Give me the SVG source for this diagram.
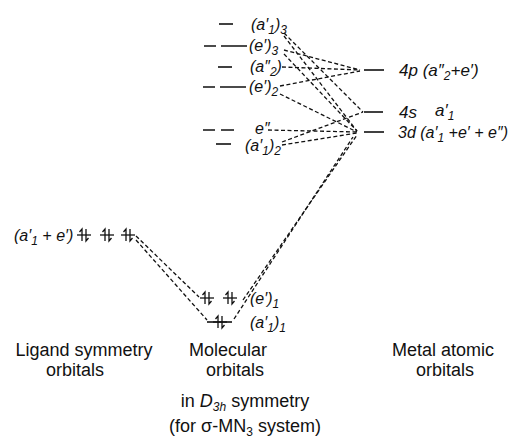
<svg xmlns="http://www.w3.org/2000/svg" width="509" height="444" viewBox="0 0 509 444">
<style>
text{font-family:"Liberation Sans","DejaVu Sans",sans-serif;fill:#111}
.lbl{font-size:16px;font-style:italic}
.rl{font-size:17px;font-style:italic}
.sub{font-size:12px}
.cap{font-size:18px}
.lvl{stroke:#111;stroke-width:1.6;fill:none}
.con line{stroke:#111;stroke-width:1.3;stroke-dasharray:4 2.5;fill:none}
.pr{stroke:#111;stroke-width:1.3;fill:none}
</style>
<defs>
<g id="pair" class="pr">
<path d="M-7,0H7"/>
<path d="M-2,6V-6l-2.5,3"/>
<path d="M2,-6V6l2.5,-3"/>
</g>
</defs>
<g id="connectors" class="con">
<line x1="136" y1="236" x2="199" y2="297"/>
<line x1="136" y1="240" x2="207" y2="320"/>
<line x1="243" y1="300" x2="357" y2="135"/>
<line x1="234" y1="319" x2="353" y2="137"/>
<line x1="284" y1="33" x2="363" y2="112"/>
<line x1="284" y1="36" x2="357" y2="131"/>
<line x1="284" y1="50" x2="360" y2="70"/>
<line x1="284" y1="54" x2="357" y2="131"/>
<line x1="282" y1="67" x2="360" y2="70"/>
<line x1="280" y1="86" x2="360" y2="71"/>
<line x1="280" y1="94" x2="357" y2="132"/>
<line x1="268" y1="130" x2="357" y2="132"/>
<line x1="282" y1="142" x2="363" y2="112"/>
<line x1="282" y1="145" x2="357" y2="133"/>
</g>
<g id="mo-a1-3"><path class="lvl" d="M219,24H233"/><text class="lbl" x="251" y="30">(a′<tspan class="sub" dy="4">1</tspan><tspan dy="-4">)</tspan><tspan class="sub" dy="4">3</tspan></text></g>
<g id="mo-e-3"><path class="lvl" d="M204,46H216M221,46H247"/><text class="lbl" x="249" y="51">(e′)<tspan class="sub" dy="4">3</tspan></text></g>
<g id="mo-a2-2"><path class="lvl" d="M218,67H232"/><text class="lbl" x="250" y="72">(a″<tspan class="sub" dy="4">2</tspan><tspan dy="-4">)</tspan></text></g>
<g id="mo-e-2"><path class="lvl" d="M203,87H215M220,87H246"/><text class="lbl" x="249" y="92">(e′)<tspan class="sub" dy="4">2</tspan></text></g>
<g id="mo-e2"><path class="lvl" d="M203,130H215M221,130H234"/><text class="lbl" x="255" y="134">e″</text></g>
<g id="mo-a1-2"><path class="lvl" d="M216,144H231"/><text class="lbl" x="245" y="151">(a′<tspan class="sub" dy="4">1</tspan><tspan dy="-4">)</tspan><tspan class="sub" dy="4">2</tspan></text></g>
<g id="mo-e-1"><use href="#pair" x="207" y="298"/><use href="#pair" x="230" y="298"/><text class="lbl" x="250" y="304">(e′)<tspan class="sub" dy="4">1</tspan></text></g>
<g id="mo-a1-1"><path class="lvl" d="M207,322H232"/><use href="#pair" x="220" y="322"/><text class="lbl" x="250" y="328">(a′<tspan class="sub" dy="4">1</tspan><tspan dy="-4">)</tspan><tspan class="sub" dy="4">1</tspan></text></g>
<g id="ligand"><text class="lbl" x="14" y="241">(a′<tspan class="sub" dy="4">1</tspan><tspan dy="-4"> + e′)</tspan></text><use href="#pair" x="84" y="235"/><use href="#pair" x="107" y="235"/><use href="#pair" x="128" y="235"/></g>
<g id="ao-4p"><path class="lvl" d="M364,70H384"/><text class="rl" x="399" y="76">4p (a″<tspan class="sub" dy="4">2</tspan><tspan dy="-4">+e′)</tspan></text></g>
<g id="ao-4s"><path class="lvl" d="M364,112H383"/><text class="rl" x="399" y="118">4s</text><text class="rl" x="435" y="116">a′<tspan class="sub" dy="4">1</tspan></text></g>
<g id="ao-3d"><path class="lvl" d="M364,132H384"/><text class="lbl" x="398" y="138">3d (a′<tspan class="sub" dy="4">1</tspan><tspan dy="-4"> +e′ + e″)</tspan></text></g>
<g id="captions" class="cap">
<text x="84" y="356" text-anchor="middle">Ligand symmetry</text>
<text x="75" y="376" text-anchor="middle">orbitals</text>
<text x="228" y="356" text-anchor="middle">Molecular</text>
<text x="235" y="376" text-anchor="middle">orbitals</text>
<text x="245" y="407" text-anchor="middle">in <tspan font-style="italic">D</tspan><tspan class="sub" dy="4" font-style="italic">3h</tspan><tspan dy="-4"> symmetry</tspan></text>
<text x="245" y="432" text-anchor="middle">(for σ-MN<tspan class="sub" dy="4">3</tspan><tspan dy="-4"> system)</tspan></text>
<text x="443" y="356" text-anchor="middle">Metal atomic</text>
<text x="445" y="376" text-anchor="middle">orbitals</text>
</g>
</svg>
